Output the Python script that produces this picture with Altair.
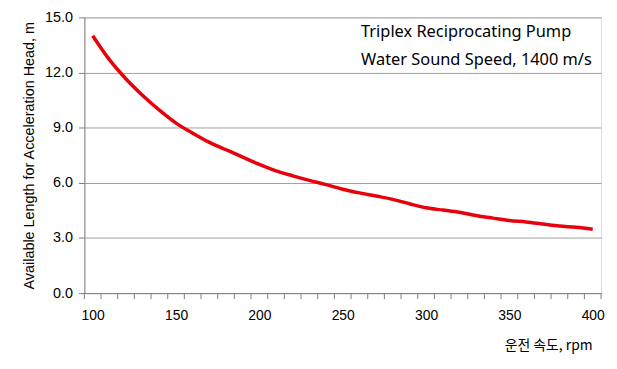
import altair as alt
import pandas as pd

rpm = [100, 110, 120, 130, 140, 150, 160, 170, 180, 190, 200, 210, 220, 230, 240,
       250, 260, 270, 280, 290, 300, 310, 320, 330, 340, 350, 360, 370, 380, 390, 400]
length_m = [14.0, 12.7, 11.65, 10.75, 9.95, 9.25, 8.7, 8.2, 7.8, 7.4, 7.0, 6.65, 6.38, 6.13, 5.9,
            5.65, 5.45, 5.28, 5.1, 4.86, 4.64, 4.52, 4.4, 4.22, 4.08, 3.95, 3.87, 3.76, 3.65, 3.58, 3.47]
notes = ["Triplex Reciprocating Pump", "Water Sound Speed, 1400 m/s"]
note_y = [15, 43]

x_labels = [100, 150, 200, 250, 300, 350, 400]
x_tick_marks = list(range(95, 406, 10))
y_ticks = [0, 3, 6, 9, 12, 15]

df = pd.DataFrame({"rpm": rpm, "len": length_m})
ticks_df = pd.DataFrame({"rpm": x_tick_marks})
notes_df = pd.DataFrame({"t": notes, "py": note_y})

x = alt.X("rpm:Q",
          scale=alt.Scale(domain=[95, 405], nice=False, zero=False),
          axis=alt.Axis(values=x_labels, grid=False, tickSize=0, domainColor="#808080",
                        labelFont="Liberation Sans", labelFontSize=14, labelColor="#000",
                        labelPadding=16, format="d", labelFlush=False, labelOverlap=False,
                        title="운전 속도, rpm", titleFont="Noto Sans CJK KR", titleFontSize=14,
                        titleFontWeight="normal", titleColor="#000",
                        titleX=512, titleY=53, titleAlign="right", titleBaseline="middle"))
y = alt.Y("len:Q",
          scale=alt.Scale(domain=[0, 15], nice=False),
          axis=alt.Axis(values=y_ticks, format=".1f", grid=True, gridColor="#a0a0a0",
                        tickSize=6, tickColor="#808080", domainColor="#808080",
                        labelFont="Liberation Sans", labelFontSize=14.5, labelColor="#000",
                        labelPadding=6, labelFlush=False,
                        title="Available Length for Acceleration Head, m",
                        titleFont="Liberation Sans", titleFontSize=14.5,
                        titleFontWeight="normal", titleColor="#000", titlePadding=8))

line = alt.Chart(df).mark_line(color="#e8000b", strokeWidth=3.5, interpolate="monotone").encode(x=x, y=y)

tick_marks = alt.Chart(ticks_df).mark_rule(color="#808080", strokeWidth=1).encode(
    x=alt.X("rpm:Q"), y=alt.value(278), y2=alt.value(284))

text = alt.Chart(notes_df).mark_text(align="left", baseline="middle", font="Noto Sans",
                                     fontSize=16.5, color="#000").encode(
    x=alt.value(279), y=alt.Y("py:Q", scale=None), text="t:N")

chart = alt.layer(line, tick_marks, text).properties(
    width=521, height=278,
    autosize=alt.AutoSizeParams(type="none"),
    padding={"left": 77, "top": 8, "right": 8, "bottom": 67},
).configure_view(stroke="#000", strokeWidth=1.2).configure(background="white")

chart.save("out.html", embed_options={"renderer": "svg", "actions": False})
